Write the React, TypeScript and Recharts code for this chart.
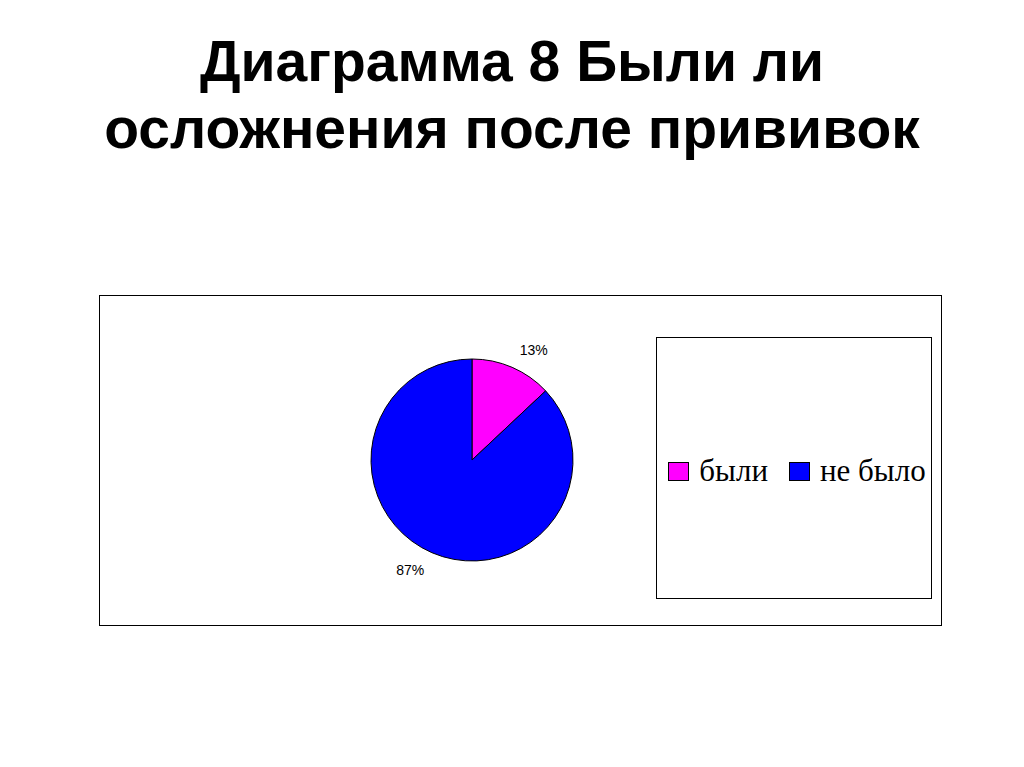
import { Pie, PieChart, Cell } from "recharts"

const categories = ["были", "не было"]
const shares = [13, 87]
const colors = ["#FF00FF", "#0000FF"]

const data = categories.map((name, i) => ({ name, value: shares[i] }))

const RADIAN = Math.PI / 180

// Excel-style outside labels: anchored away from the pie
const renderLabel = (props: any) => {
  const { cx, cy, midAngle, outerRadius, percent } = props
  const r = outerRadius + 19
  const cos = Math.cos(-midAngle * RADIAN)
  const x = cx + r * cos
  const y = cy + r * Math.sin(-midAngle * RADIAN)
  return (
    <text
      x={x}
      y={y}
      textAnchor={cos >= 0 ? "start" : "end"}
      dominantBaseline="central"
      fontFamily="Liberation Sans, Arial, sans-serif"
      fontSize={14}
      fill="#000"
    >
      {`${Math.round(percent * 100)}%`}
    </text>
  )
}

export default function App() {
  return (
    <div
      style={{
        position: "absolute",
        left: 0,
        top: 0,
        width: 1024,
        height: 767,
        background: "#fff",
        overflow: "hidden",
      }}
    >
      <div
        style={{
          position: "absolute",
          left: 0,
          top: 28,
          width: 1024,
          textAlign: "center",
          fontFamily: "Liberation Sans, Arial, sans-serif",
          fontWeight: "bold",
          fontSize: 57,
          lineHeight: "67px",
          color: "#000",
        }}
      >
        Диаграмма 8 Были ли
        <br />
        осложнения после прививок
      </div>

      <div
        style={{
          position: "absolute",
          left: 99,
          top: 295,
          width: 841,
          height: 329,
          border: "1.5px solid #000",
        }}
      >
        <PieChart width={841} height={329}>
          <Pie
            data={data}
            dataKey="value"
            nameKey="name"
            cx={367}
            cy={159}
            outerRadius={101}
            startAngle={90}
            endAngle={-270}
            stroke="#000"
            strokeWidth={1}
            label={renderLabel}
            labelLine={false}
            isAnimationActive={false}
          >
            {data.map((d, i) => (
              <Cell key={d.name} fill={colors[i]} />
            ))}
          </Pie>
        </PieChart>

        <div
          style={{
            position: "absolute",
            left: 556,
            top: 41,
            width: 274,
            height: 260,
            border: "1.5px solid #000",
            display: "flex",
            alignItems: "center",
            justifyContent: "center",
            fontFamily: "Liberation Serif, Times New Roman, serif",
            fontSize: 31,
            color: "#000",
          }}
        >
          <div style={{ display: "flex", alignItems: "center", marginTop: 6, marginLeft: 6 }}>
            {data.map((d, i) => (
              <div
                key={d.name}
                style={{ display: "flex", alignItems: "center", marginRight: i === 0 ? 21 : 0 }}
              >
                <span
                  style={{
                    display: "inline-block",
                    width: 19,
                    height: 17,
                    background: colors[i],
                    border: "1px solid #000",
                    marginRight: 10,
                  }}
                />
                <span>{d.name}</span>
              </div>
            ))}
          </div>
        </div>
      </div>
    </div>
  )
}
